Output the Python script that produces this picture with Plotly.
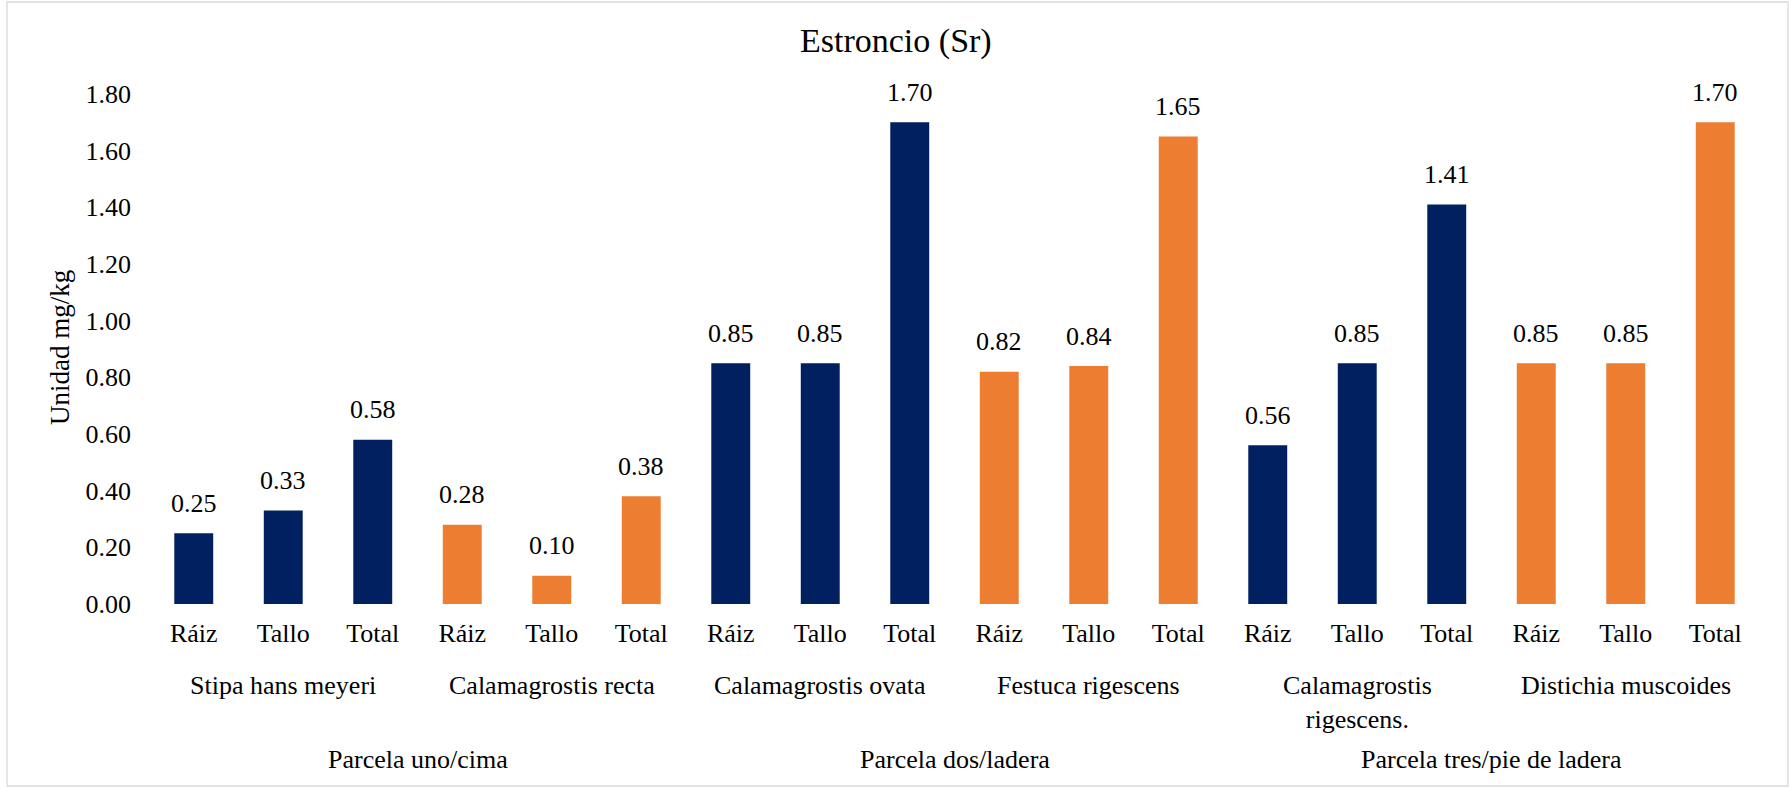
import plotly.graph_objects as go

# Data
parts = ["Ráiz", "Tallo", "Total"]
species = ["Stipa hans meyeri", "Calamagrostis recta", "Calamagrostis ovata",
           "Festuca rigescens", "Calamagrostis<br>rigescens.", "Distichia muscoides"]
plots = ["Parcela uno/cima", "Parcela dos/ladera", "Parcela tres/pie de ladera"]

stipa = [0.25, 0.33, 0.58]
cal_recta = [0.28, 0.10, 0.38]
cal_ovata = [0.85, 0.85, 1.70]
festuca = [0.82, 0.84, 1.65]
cal_rigescens = [0.56, 0.85, 1.41]
distichia = [0.85, 0.85, 1.70]

series = [stipa, cal_recta, cal_ovata, festuca, cal_rigescens, distichia]
NAVY = "#002060"
ORANGE = "#ED7D31"
group_colors = [NAVY, ORANGE, NAVY, ORANGE, NAVY, ORANGE]

FONT = "Times New Roman"
FS = 26

W, H = 1789, 787
L, R, T, B = 149, 29, 94, 183
pw, ph = W - L - R, H - T - B


def py(pixel_y):
    """Convert an absolute pixel y into paper coordinates."""
    return (H - B - pixel_y) / ph


def px(pixel_x):
    return (pixel_x - L) / pw


fig = go.Figure()

x_all, y_all, c_all, tick_text = [], [], [], []
for g, vals in enumerate(series):
    for k, v in enumerate(vals):
        x_all.append(g * 3 + k)
        y_all.append(v)
        c_all.append(group_colors[g])
        tick_text.append(parts[k])

fig.add_trace(go.Bar(
    x=x_all, y=y_all,
    marker=dict(color=c_all, line=dict(width=0)),
    hoverinfo="skip",
))

# Value labels above each bar
for xv, yv in zip(x_all, y_all):
    fig.add_annotation(
        x=xv, y=yv, xref="x", yref="y",
        text=f"{yv:.2f}", showarrow=False,
        xanchor="center", yanchor="middle", yshift=30,
        font=dict(family=FONT, size=FS, color="black"),
    )

# Species labels (second category level)
for g, name in enumerate(species):
    fig.add_annotation(
        x=g * 3 + 1, y=py(669), xref="x", yref="paper",
        text=name, showarrow=False, xanchor="center", yanchor="top",
        font=dict(family=FONT, size=FS, color="black"),
    )
# Plot labels (third category level)
for p, name in enumerate(plots):
    fig.add_annotation(
        x=p * 6 + 2.5, y=py(759), xref="x", yref="paper",
        text=name, showarrow=False, xanchor="center", yanchor="middle",
        font=dict(family=FONT, size=FS, color="black"),
    )
# Y axis title
fig.add_annotation(
    x=px(60), y=py(348), xref="paper", yref="paper",
    text="Unidad mg/kg", textangle=-90, showarrow=False,
    xanchor="center", yanchor="middle",
    font=dict(family=FONT, size=27, color="black"),
)
# Chart title
fig.add_annotation(
    x=px(896), y=py(41), xref="paper", yref="paper",
    text="Estroncio (Sr)", showarrow=False,
    xanchor="center", yanchor="middle",
    font=dict(family=FONT, size=34, color="black"),
)

# Outer chart border
fig.add_shape(
    type="rect", xref="paper", yref="paper",
    x0=px(7), x1=px(1788), y0=py(786), y1=py(2),
    line=dict(color="#D9D9D9", width=1.3), fillcolor="rgba(0,0,0,0)", layer="below",
)

fig.update_layout(
    template="none",
    width=W, height=H,
    margin=dict(l=L, r=R, t=T, b=B, autoexpand=False),
    paper_bgcolor="white", plot_bgcolor="white",
    showlegend=False,
    bargap=0.565,
    xaxis=dict(
        range=[-0.5, 17.5],
        tickmode="array", tickvals=list(range(18)), ticktext=tick_text,
        showgrid=False, zeroline=False, showline=False, ticks="",
        ticklabelstandoff=11,
        tickfont=dict(family=FONT, size=FS, color="black"),
    ),
    yaxis=dict(
        range=[0, 1.8],
        tickmode="array", tickvals=[i * 0.2 for i in range(10)],
        tickformat=".2f",
        showgrid=False, zeroline=False, showline=False, ticks="",
        ticklabelstandoff=17,
        tickfont=dict(family=FONT, size=FS, color="black"),
    ),
)

fig.write_html("out.html")
